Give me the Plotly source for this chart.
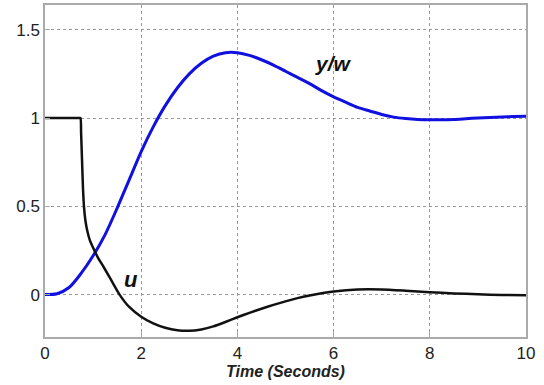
import plotly.graph_objects as go

# y/w response (blue)
t_y = [0, 0.25, 0.5, 0.75, 1.0, 1.25, 1.5, 1.75, 2.0, 2.25, 2.5, 2.75, 3.0, 3.25, 3.5,
       3.75, 4.0, 4.25, 4.5, 4.75, 5.0, 5.25, 5.5, 5.75, 6.0, 6.25, 6.5, 6.75, 7.0, 7.25,
       7.5, 7.75, 8.0, 8.25, 8.5, 8.75, 9.0, 9.25, 9.5, 9.75, 10]
y_w = [0, 0.005, 0.04, 0.12, 0.22, 0.34, 0.49, 0.65, 0.81, 0.95, 1.07, 1.17, 1.25, 1.31, 1.35,
       1.37, 1.37, 1.355, 1.33, 1.30, 1.265, 1.23, 1.195, 1.155, 1.12, 1.09, 1.06, 1.04, 1.02, 1.005,
       0.997, 0.992, 0.99, 0.99, 0.992, 0.996, 1.0, 1.003, 1.006, 1.008, 1.01]

# control signal u (black)
t_u = [0, 0.5, 0.72, 0.74, 0.75, 0.77, 0.79, 0.81, 0.84, 0.88, 0.93, 1.0, 1.1, 1.2, 1.35, 1.55, 1.75,
       2.0, 2.25, 2.5, 2.75, 3.0, 3.25, 3.5, 3.75, 4.0, 4.25, 4.5, 4.75, 5.0, 5.25, 5.5,
       5.75, 6.0, 6.5, 7.0, 7.5, 8.0, 8.5, 9.0, 9.5, 10]
u = [1, 1, 1, 1, 0.92, 0.76, 0.6, 0.5, 0.42, 0.36, 0.31, 0.265, 0.21, 0.165, 0.095, 0.0, -0.07,
     -0.125, -0.163, -0.188, -0.202, -0.205, -0.197, -0.18, -0.155, -0.128, -0.103, -0.08, -0.058, -0.038, -0.02, -0.005,
     0.008, 0.018, 0.029, 0.029, 0.022, 0.014, 0.007, 0.002, -0.002, -0.004]

x_ticks = [0, 2, 4, 6, 8, 10]
y_ticks = [0, 0.5, 1, 1.5]
y_tick_text = ["0", "0.5", "1", "1.5"]

fig = go.Figure()
fig.add_trace(go.Scatter(x=t_y, y=y_w, mode="lines",
                         line=dict(color="#1010e0", width=3, shape="spline", smoothing=0.8)))
fig.add_trace(go.Scatter(x=t_u, y=u, mode="lines",
                         line=dict(color="#111111", width=2.5, shape="spline", smoothing=0.5)))

fig.add_annotation(x=6.0, y=1.31, text="<b><i>y/w</i></b>", showarrow=False,
                   font=dict(family="Liberation Sans", size=21, color="#111"))
fig.add_annotation(x=1.79, y=0.085, text="<b><i>u</i></b>", showarrow=False,
                   font=dict(family="Liberation Sans", size=22, color="#111"))

axis_common = dict(showline=True, mirror=True, linecolor="#aaaaaa", linewidth=1.5,
                   showgrid=True, gridcolor="#999999", griddash="dot", gridwidth=1,
                   zeroline=False, ticks="inside", ticklen=5, tickcolor="#aaaaaa",
                   automargin=False,
                   tickfont=dict(family="Liberation Sans", size=17, color="#222"))

fig.update_xaxes(range=[0, 10], tickvals=x_ticks,
                 title=dict(text="<b><i>Time (Seconds)</i></b>", standoff=0,
                            font=dict(family="Liberation Sans", size=16, color="#222")),
                 **axis_common)
fig.update_yaxes(range=[-0.24, 1.64], tickvals=y_ticks, ticktext=y_tick_text, **axis_common)

fig.update_layout(width=544, height=385, showlegend=False,
                  margin=dict(l=45, r=18, t=5, b=48),
                  plot_bgcolor="white", paper_bgcolor="white")

fig.write_html("out.html", config={"displayModeBar": False},
               post_script="document.body.style.margin='0';")
